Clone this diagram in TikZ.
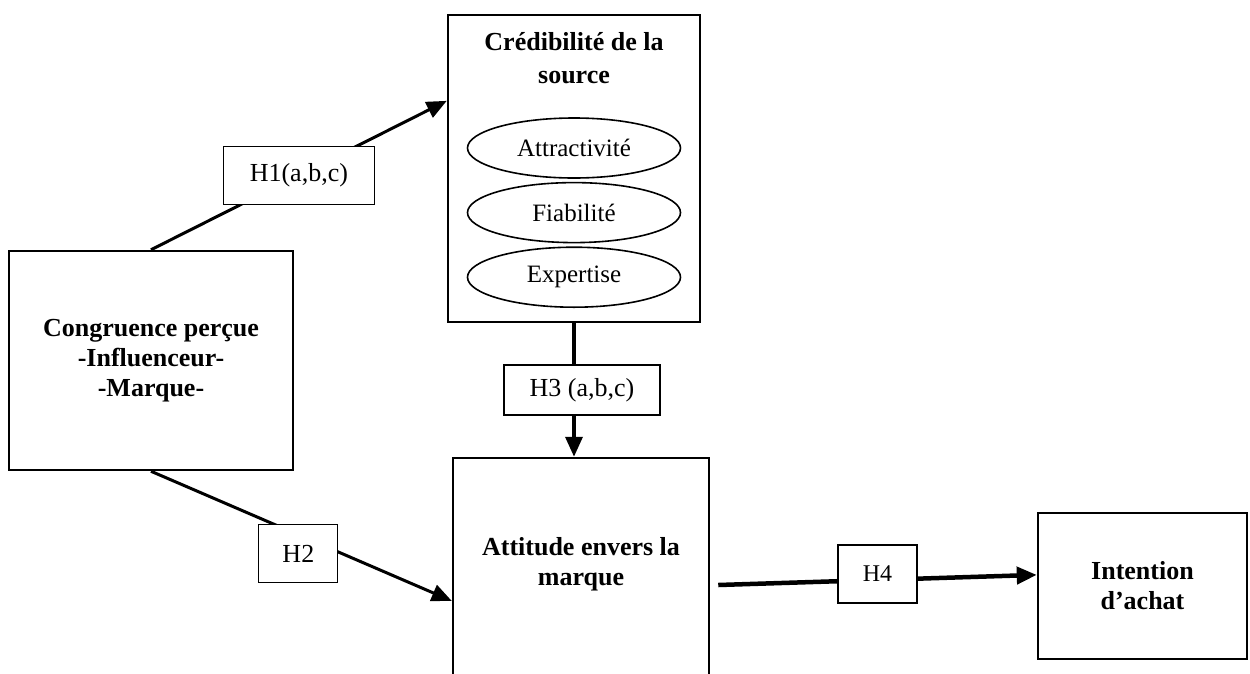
\documentclass[tikz,border=0pt]{standalone}
\usepackage{fontspec}
\setmainfont{Liberation Serif}
\usetikzlibrary{arrows.meta, positioning, shapes.geometric}

\tikzset{
  bigbox/.style={draw, line width=2.5pt, inner sep=0pt, align=center,
    font=\bfseries\fontsize{26}{30}\selectfont},
  hbox/.style={draw, line width=1.2pt, fill=white, inner sep=0pt,
    font=\fontsize{26}{30}\selectfont},
  dimell/.style={ellipse, draw, line width=1.6pt, inner sep=0pt,
    minimum width=213pt, minimum height=60pt, font=\fontsize{25}{28}\selectfont},
  link/.style={->, line width=3pt},
}

\begin{document}
\begin{tikzpicture}[x=1pt, y=-1pt, >={Triangle[length=20pt, width=17pt]}]
  \clip (0,0) rectangle (1250,673);
  % Boxes
  \node[bigbox, minimum width=284pt, minimum height=219pt] (cong) at (151,360.5)
    {Congruence perçue\\-Influenceur-\\-Marque-};
  \node[bigbox, minimum width=252pt, minimum height=307pt] (cred) at (574,168.5) {};
  \node[bigbox, draw=none, anchor=north] (credtitle) at ([yshift=-17pt]cred.north)
    {Crédibilité de la\\[3pt]source};
  \node[dimell] (attr) at (574,148) {Attractivité};
  \node[dimell, below=3pt of attr] (fiab) {Fiabilité};
  \node[dimell, below=3pt of fiab] (expe) {Expertise};
  \node[bigbox, minimum width=256pt, minimum height=254pt] (attitude) at (581,585) {};
  \node[bigbox, draw=none] (atttext) at ([yshift=21pt]attitude.center)
    {Attitude envers la\\marque};
  \node[bigbox, minimum width=209pt, minimum height=146pt] (intention) at (1142.5,586)
    {Intention\\d’achat};
  % Hypotheses
  \draw[link] (cong.north) -- (cred.152)
    node[hbox, pos=0.5, minimum width=151pt, minimum height=58pt] (h1) {H1(a,b,c)};
  \draw[link] (cong.south) -- (attitude.187)
    node[hbox, pos=0.49, yshift=-19pt, minimum width=79pt, minimum height=58pt] (h2) {H2};
  \draw[link, line width=3.5pt] (cred.south) -- (cred.south |- attitude.north)
    node[hbox, pos=0.5, xshift=8pt, minimum width=156pt, minimum height=50pt] (h3) {H3 (a,b,c)};
  \coordinate (h4start) at ([xshift=8pt]attitude.east);
  \draw[link, line width=4.5pt] (h4start) -- (intention.174)
    node[hbox, pos=0.5, yshift=6pt, minimum width=79pt, minimum height=58pt,
      font=\fontsize{24}{28}\selectfont] (h4) {H4};
\end{tikzpicture}
\end{document}
